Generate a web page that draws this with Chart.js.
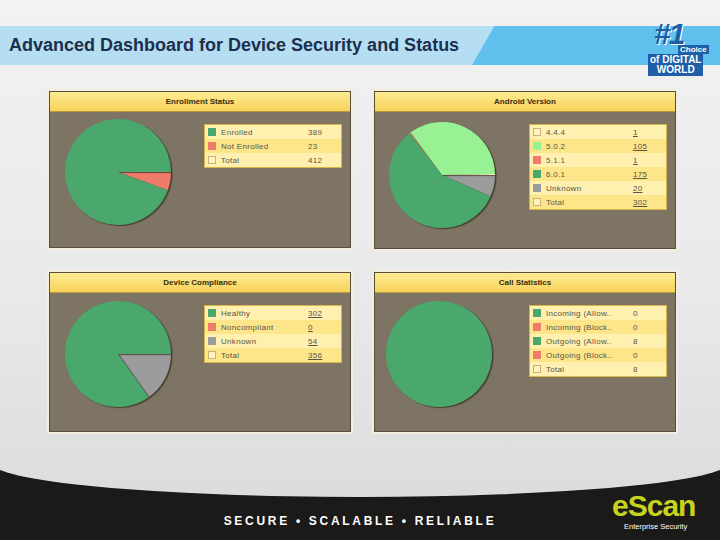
<!DOCTYPE html>
<html>
<head>
<meta charset="utf-8">
<script src="https://cdn.jsdelivr.net/npm/chart.js@4.4.1/dist/chart.umd.min.js"></script>
<style>
  body { margin:0; width:720px; height:540px; overflow:hidden; font-family:"Liberation Sans", Arial, sans-serif; }
  #slide { position:relative; width:720px; height:540px; background:#1b1a18; overflow:hidden; }
  #light { position:absolute; left:-10px; top:0; width:740px; height:497px; background:linear-gradient(180deg,#f2f2f2 0%,#e9e9e9 60%,#dcdcdc 100%); border-radius:0 0 50% 50% / 0 0 35px 35px; }
  #band { position:absolute; left:0; top:26px; width:720px; height:39px; background:#b6def3; }
  #band2 { position:absolute; left:472px; top:26px; width:300px; height:39px; background:#5fc0ee; transform:skewX(-30deg); transform-origin:0 100%; }
  #title { position:absolute; left:9px; top:35px; font-size:18px; font-weight:bold; color:#1c2f4c; letter-spacing:0px; }
  #badge { position:absolute; left:648px; top:17px; width:62px; height:58px; color:#fff; text-align:center; font-weight:bold; }
  #badge .n { position:absolute; left:6px; top:0; font-size:30px; color:#1e5fa8; font-style:italic; letter-spacing:-2px; text-shadow:1px 1px 0 #fff; }
  #badge .c { position:absolute; left:30px; top:28px; font-size:8px; color:#fff; background:#1e5fa8; padding:0 2px; }
  #badge .d { position:absolute; left:0; top:37px; font-size:10px; background:#1e5fa8; padding:1px 2px; line-height:10px; }
  .panel { position:absolute; width:300px; background:#7d7464; border:1px solid #574e3e; box-shadow:0 0 0 2px #f3eedf; }
  .phead { height:19px; line-height:19px; text-align:center; font-size:8px; font-weight:bold; color:#3a2c10; background:linear-gradient(180deg,#fdeb92 0%,#f7d35a 100%); border-bottom:1px solid #b59a42; }
  .pie { position:absolute; }
  table.leg { position:absolute; border-collapse:collapse; font-size:8px; color:#5a5448; border:1px solid #d9b548; width:138px; letter-spacing:0.3px; }
  table.leg td { height:14px; padding:0 3px; white-space:nowrap; }
  table.leg tr:nth-child(odd) { background:#fff0b0; }
  table.leg tr:nth-child(even) { background:#fde58a; }
  table.leg .sw { display:inline-block; width:8px; height:8px; vertical-align:-1px; margin-right:5px; box-sizing:border-box; }
  table.leg td.v { text-align:left; width:30px; }
  table.leg td.v.u { text-decoration:underline; }
  #slogan { position:absolute; left:0; width:720px; top:514px; text-align:center; color:#fff; font-size:12px; font-weight:bold; letter-spacing:2.7px; }
  #escan { position:absolute; left:612px; top:489px; color:#c6d41e; font-size:30px; font-weight:bold; letter-spacing:-1px; }
  #escan2 { position:absolute; left:624px; top:522px; color:#fff; font-size:7.5px; }
</style>
</head>
<body>
<div id="slide">
  <div id="light"></div>
  <div id="band"></div>
  <div id="band2"></div>
  <div id="title">Advanced Dashboard for Device Security and Status</div>
  <div id="badge"><span class="n">#1</span><span class="c">Choice</span><span class="d">of DIGITAL<br>WORLD</span></div>

  <div class="panel" style="left:49px;top:91px;height:155px;"><div class="phead">Enrollment Status</div></div>
  <div class="panel" style="left:374px;top:91px;height:156px;"><div class="phead">Android Version</div></div>
  <div class="panel" style="left:49px;top:272px;height:158px;"><div class="phead">Device Compliance</div></div>
  <div class="panel" style="left:374px;top:272px;height:158px;"><div class="phead">Call Statistics</div></div>

  <canvas id="c1" class="pie" width="110" height="110" style="left:63px;top:117px;"></canvas>
  <canvas id="c2" class="pie" width="110" height="110" style="left:387px;top:120px;"></canvas>
  <canvas id="c3" class="pie" width="110" height="110" style="left:63px;top:299px;"></canvas>
  <canvas id="c4" class="pie" width="110" height="110" style="left:384px;top:299px;"></canvas>

  <table class="leg" id="t1" style="left:204px;top:124px;"></table>
  <table class="leg" id="t2" style="left:529px;top:124px;"></table>
  <table class="leg" id="t3" style="left:204px;top:305px;"></table>
  <table class="leg" id="t4" style="left:529px;top:305px;"></table>

  <div id="slogan">SECURE • SCALABLE • RELIABLE</div>
  <div id="escan">eScan</div>
  <div id="escan2">Enterprise Security</div>
</div>
<script>
const GREEN = "#4aa86d", LIGHT = "#98f192", RED = "#ef7b6b", GREY = "#9c9c9c", CREAM = "#fff3c0";

const enrollLabels = ["Enrolled", "Not Enrolled"];
const enrollValues = [389, 23];
const enrollColors = [GREEN, RED];
const enrollTotal = 412;

const androidLabels = ["4.4.4", "5.0.2", "5.1.1", "6.0.1", "Unknown"];
const androidValues = [1, 105, 1, 175, 20];
const androidColors = [CREAM, LIGHT, RED, GREEN, GREY];
const androidTotal = 302;

const complianceLabels = ["Healthy", "Noncompliant", "Unknown"];
const complianceValues = [302, 0, 54];
const complianceColors = [GREEN, RED, GREY];
const complianceTotal = 356;

const callLabels = ["Incoming (Allowed)", "Incoming (Blocked)", "Outgoing (Allowed)", "Outgoing (Blocked)"];
const callValues = [0, 0, 8, 0];
const callColors = [GREEN, RED, GREEN, RED];
const callTotal = 8;

function shorten(s){
    return s.length > 16 ? s.slice(0, 15) + ".." : s;
}

// little drop shadow like the old flash pies
const pieShadow = {
    id: 'pieShadow',
    beforeDatasetsDraw(chart){
        const ctx = chart.ctx;
        ctx.save();
        ctx.shadowColor = "rgba(50,40,25,0.7)";
        ctx.shadowOffsetX = 1.5;
        ctx.shadowOffsetY = 1;
        ctx.shadowBlur = 1;
    },
    afterDatasetsDraw(chart){
        chart.ctx.restore();
    }
};

function makePie(id, labels, values, colors){
    // slices run counter-clockwise from 3 o'clock in the original, so feed them reversed
    new Chart(document.getElementById(id), {
        type: 'pie',
        data: {
            labels: labels.slice().reverse(),
            datasets: [{
                data: values.slice().reverse(),
                backgroundColor: colors.slice().reverse(),
                borderWidth: 0
            }]
        },
        options: {
            responsive: false,
            animation: false,
            rotation: 90,
            layout: { padding: 2 },
            plugins: { legend: { display: false }, tooltip: { enabled: false } }
        },
        plugins: [pieShadow]
    });
}

function makeTable(id, labels, values, colors, total, underline){
    const t = document.getElementById(id);
    let html = "";
    labels.forEach((l, i) => {
        const border = colors[i] === CREAM ? "border:1px solid #c9b27a;background:" + CREAM : "background:" + colors[i];
        html += `<tr><td><span class="sw" style="${border}"></span>${shorten(l)}</td><td class="v${underline ? " u" : ""}">${values[i]}</td></tr>`;
    });
    html += `<tr><td><span class="sw" style="border:1px solid #c9b27a;background:${CREAM}"></span>Total</td><td class="v${underline ? " u" : ""}">${total}</td></tr>`;
    t.innerHTML = html;
}

makePie("c1", enrollLabels, enrollValues, enrollColors);
makePie("c2", androidLabels, androidValues, androidColors);
makePie("c3", complianceLabels, complianceValues, complianceColors);
makePie("c4", callLabels, callValues, callColors);

makeTable("t1", enrollLabels, enrollValues, enrollColors, enrollTotal, false);
makeTable("t2", androidLabels, androidValues, androidColors, androidTotal, true);
makeTable("t3", complianceLabels, complianceValues, complianceColors, complianceTotal, true);
makeTable("t4", callLabels, callValues, callColors, callTotal, false);
</script>
</body>
</html>
